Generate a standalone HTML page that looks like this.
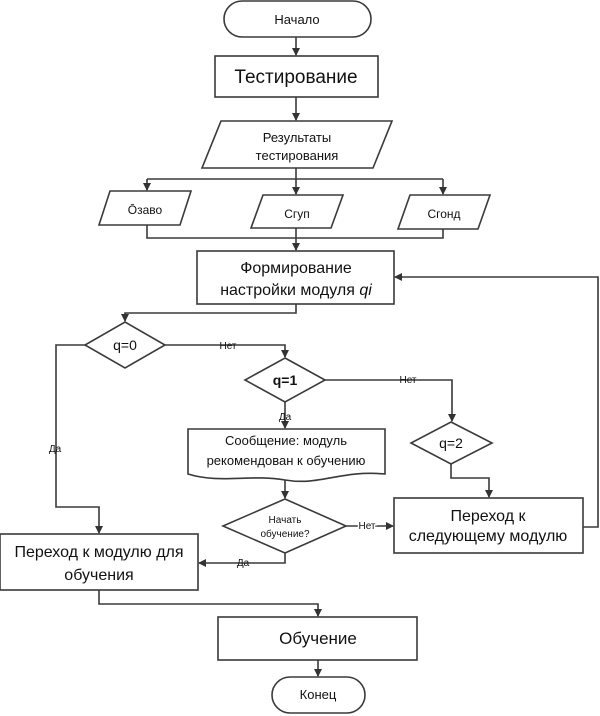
<!DOCTYPE html>
<html><head><meta charset="utf-8"><style>
html,body{margin:0;padding:0;background:#fff;}
svg{display:block;}
text{font-family:"Liberation Sans","DejaVu Sans",sans-serif;fill:#111;text-anchor:middle;}
</style></head><body>
<svg width="600" height="716" viewBox="0 0 600 716" xmlns="http://www.w3.org/2000/svg">
<defs>
<marker id="a" markerWidth="8" markerHeight="8" refX="7" refY="4" orient="auto" markerUnits="userSpaceOnUse">
<path d="M0,0 L8,4 L0,8 z" fill="#333"/></marker>
</defs>
<g fill="none" stroke="#3a3a3a" stroke-width="1.6">
<rect x="224" y="1" width="147" height="36" rx="18" fill="#fff"/>
<rect x="215" y="56" width="163" height="41" fill="#fff"/>
<polygon points="221,121 392,121 373,168 202,168" fill="#fff"/>
<polygon points="110,191 191,191 180,225 99,225" fill="#fff"/>
<polygon points="263,195 343,195 331,228 251,228" fill="#fff"/>
<polygon points="410,195 490,195 478,229 398,229" fill="#fff"/>
<rect x="197" y="251" width="197" height="53" fill="#fff"/>
<polygon points="125,322 165,345 125,368 85,345" fill="#fff"/>
<polygon points="285,358 325,380 285,402 245,380" fill="#fff"/>
<polygon points="451,422 492,443 451,464 411,443" fill="#fff"/>
<path d="M188,429 H385 V474 C340,470 320,486 285,480 C250,474 220,484 188,474 Z" fill="#fff"/>
<polygon points="285,499 346,526 285,553 223,526" fill="#fff"/>
<rect x="394" y="498" width="189" height="55" fill="#fff"/>
<rect x="0" y="534" width="198" height="56" fill="#fff"/>
<rect x="218" y="617" width="199" height="43" fill="#fff"/>
<rect x="272" y="677" width="93" height="36" rx="18" fill="#fff"/>
<line x1="296" y1="37" x2="296" y2="55" marker-end="url(#a)"/>
<line x1="296" y1="97" x2="296" y2="120" marker-end="url(#a)"/>
<line x1="296" y1="168" x2="296" y2="194" marker-end="url(#a)"/>
<path d="M147,179 H443"/>
<line x1="147" y1="179" x2="147" y2="190" marker-end="url(#a)"/>
<line x1="443" y1="179" x2="443" y2="194" marker-end="url(#a)"/>
<path d="M147,225 V238 H443 V229"/>
<line x1="296" y1="228" x2="296" y2="250" marker-end="url(#a)"/>
<path d="M296,304 V313 H125 V321" marker-end="url(#a)"/>
<path d="M85,345 H56 V507 H99 V533" marker-end="url(#a)"/>
<path d="M165,345 H285 V357" marker-end="url(#a)"/>
<path d="M325,380 H452 V421" marker-end="url(#a)"/>
<path d="M451,464 V478 H489 V497" marker-end="url(#a)"/>
<line x1="285" y1="402" x2="285" y2="428" marker-end="url(#a)"/>
<line x1="285" y1="480" x2="285" y2="498" marker-end="url(#a)"/>
<line x1="346" y1="526" x2="393" y2="526" marker-end="url(#a)"/>
<path d="M285,553 V563 H199" marker-end="url(#a)"/>
<path d="M583,527 H598 V277 H395" marker-end="url(#a)"/>
<path d="M99,590 V604 H318 V616" marker-end="url(#a)"/>
<line x1="318" y1="660" x2="318" y2="676" marker-end="url(#a)"/>
</g>
<g>
<text x="297" y="24" font-size="13">Начало</text>
<text x="296" y="83" font-size="19">Тестирование</text>
<text x="297" y="142" font-size="13">Результаты</text>
<text x="297" y="160" font-size="13">тестирования</text>
<text x="145" y="214" font-size="12">Ōзаво</text>
<text x="297" y="218" font-size="12">Сгуп</text>
<text x="444" y="218" font-size="12">Сгонд</text>
<text x="296" y="273" font-size="16">Формирование</text>
<text x="296" y="295" font-size="16">настройки модуля <tspan font-style="italic">qi</tspan></text>
<text x="125" y="350" font-size="14">q=0</text>
<text x="285" y="385" font-size="14" font-weight="bold">q=1</text>
<text x="451" y="448" font-size="14">q=2</text>
<text x="228" y="349" font-size="10">Нет</text>
<text x="408" y="383" font-size="10">Нет</text>
<text x="55" y="452" font-size="10">Да</text>
<text x="285" y="420" font-size="10">Да</text>
<text x="367" y="529" font-size="10" style="paint-order:stroke" stroke="#fff" stroke-width="3">Нет</text>
<text x="243" y="566" font-size="10">Да</text>
<text x="286" y="445" font-size="13">Сообщение: модуль</text>
<text x="286" y="465" font-size="13">рекомендован к обучению</text>
<text x="285" y="523" font-size="10">Начать</text>
<text x="285" y="537" font-size="10">обучение?</text>
<text x="488" y="521" font-size="16">Переход к</text>
<text x="488" y="541" font-size="16">следующему модулю</text>
<text x="99" y="557" font-size="16">Переход к модулю для</text>
<text x="99" y="580" font-size="16">обучения</text>
<text x="318" y="644" font-size="17">Обучение</text>
<text x="318" y="699" font-size="13">Конец</text>
</g>
</svg>
</body></html>
